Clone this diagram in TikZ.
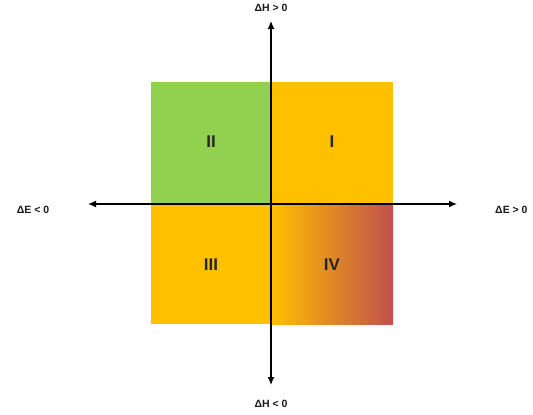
\documentclass[tikz,border=0pt]{standalone}
\usepackage{fontspec}
\setmainfont{Liberation Sans}
\usetikzlibrary{arrows.meta}
\definecolor{qgreen}{RGB}{146,208,80}
\definecolor{qyellow}{RGB}{255,192,0}
\definecolor{qred}{RGB}{192,80,77}
\tikzset{
  axislabel/.style={font=\bfseries\fontsize{10.5}{12}\selectfont, inner sep=0pt, text=black!90},
  quadlabel/.style={font=\bfseries\fontsize{17}{20}\selectfont, text=black!85},
  axisline/.style={line width=1.3pt, -{Latex[length=8pt,width=7pt]}},
}
\begin{document}
\begin{tikzpicture}[x=1pt,y=-1pt]
\useasboundingbox (0,0) rectangle (533,415);
\fill[white] (0,0) rectangle (533,415);
% quadrants
\fill[qgreen] (151,82) rectangle (271,204);
\fill[qyellow] (271,82) rectangle (393,204);
\fill[qyellow] (151,204) rectangle (271,324);
\shade[left color=qyellow, right color=qred] (271,204) rectangle (393,324);
\node[quadlabel] (q1) at (332,142) {I};
\node[quadlabel] (q2) at (211,142) {II};
\node[quadlabel] (q3) at (211,265) {III};
\node[quadlabel] (q4) at (332,265) {IV};
% axes
\coordinate (o) at (271,204);
\coordinate (top) at (271,21);
\coordinate (bot) at (271,385);
\coordinate (lft) at (88,204);
\coordinate (rgt) at (457,204);
\draw[axisline] (o) -- (top);
\draw[axisline] (o) -- (bot);
\draw[axisline] (o) -- (lft);
\draw[axisline] (o) -- (rgt);
% labels
\node[axislabel] (lt) at (271,8) {ΔH > 0};
\node[axislabel] (lb) at (271,404) {ΔH < 0};
\node[axislabel] (ll) at (33,210) {ΔE < 0};
\node[axislabel, anchor=west] (lr) at (495,210) {ΔE > 0};
\end{tikzpicture}
\end{document}
